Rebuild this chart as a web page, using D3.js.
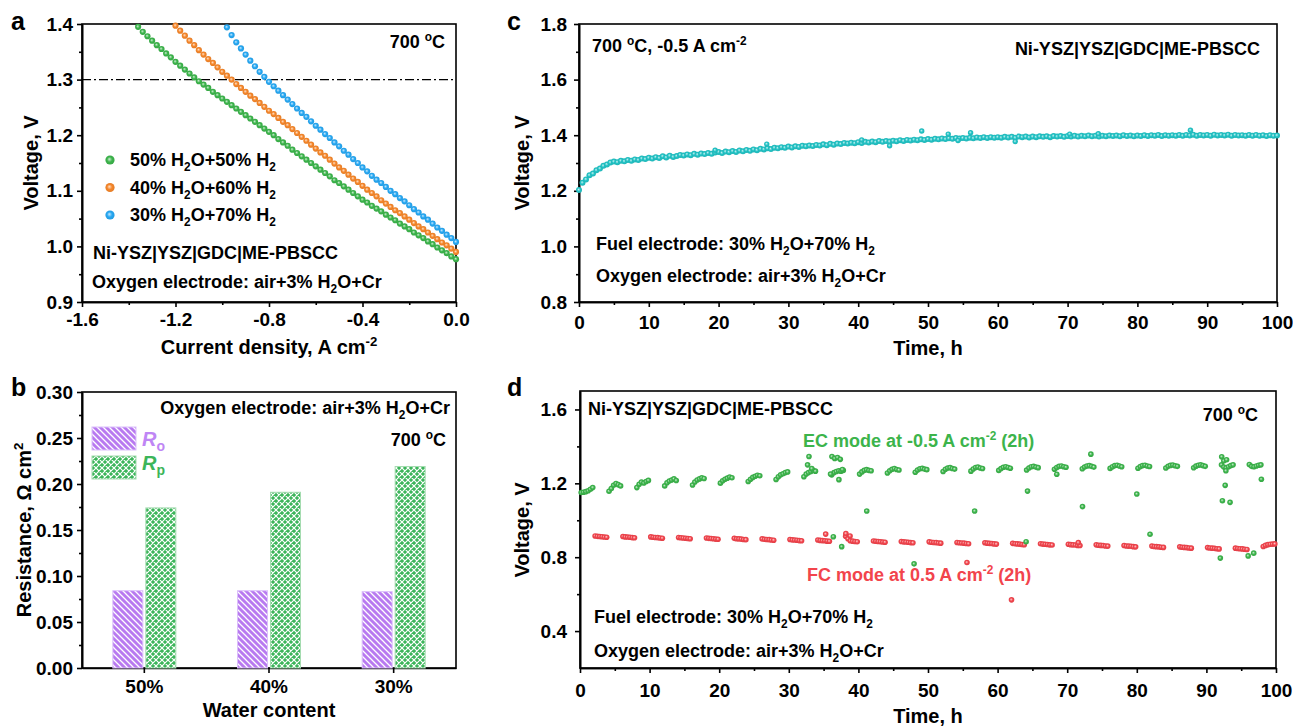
<!DOCTYPE html>
<html>
<head>
<meta charset="utf-8">
<script src="https://cdn.jsdelivr.net/npm/d3@7"></script>
<style>
  body { margin: 0; background: #fff; }
  text { font-family: "Liberation Sans", Arial, sans-serif; font-weight: bold; }
</style>
</head>
<body>
<script>
// ---------- data ----------
// (a) voltage vs current density, sampled every 0.02 A cm-2 starting at 0 and going negative
var iStep = 0.02;
var v50 = [0.977,0.982,0.988,0.993,0.998,1.004,1.009,1.015,1.020,1.025,
           1.031,1.036,1.041,1.047,1.052,1.057,1.063,1.068,1.073,1.079,
           1.084,1.090,1.096,1.102,1.108,1.114,1.119,1.126,1.132,1.138,
           1.144,1.150,1.156,1.162,1.168,1.174,1.181,1.187,1.193,1.200,
           1.206,1.212,1.218,1.224,1.230,1.236,1.242,1.248,1.254,1.260,
           1.266,1.272,1.278,1.285,1.291,1.297,1.304,1.311,1.318,1.325,
           1.332,1.340,1.347,1.355,1.362,1.370,1.378,1.386,1.395];
var v40 = [0.990,0.996,1.002,1.007,1.013,1.019,1.025,1.031,1.036,1.042,
           1.048,1.054,1.060,1.065,1.071,1.077,1.083,1.090,1.096,1.102,
           1.109,1.116,1.122,1.129,1.136,1.142,1.149,1.156,1.163,1.169,
           1.176,1.183,1.190,1.197,1.204,1.211,1.218,1.224,1.231,1.238,
           1.244,1.251,1.258,1.265,1.271,1.278,1.285,1.292,1.300,1.307,
           1.314,1.322,1.330,1.337,1.345,1.353,1.362,1.370,1.379,1.388,
           1.397];
var v30 = [1.008,1.015,1.021,1.028,1.034,1.041,1.048,1.054,1.061,1.067,
           1.074,1.081,1.087,1.094,1.100,1.107,1.114,1.120,1.127,1.135,
           1.142,1.150,1.157,1.165,1.172,1.180,1.187,1.195,1.202,1.210,
           1.217,1.225,1.233,1.240,1.248,1.256,1.264,1.272,1.280,1.288,
           1.296,1.305,1.314,1.324,1.334,1.345,1.356,1.367,1.380,1.394];
var seriesA = [
  {name: "50% H_{2}O+50% H_{2}", color: "#3cb44b", v: v50},
  {name: "40% H_{2}O+60% H_{2}", color: "#f5862a", v: v40},
  {name: "30% H_{2}O+70% H_{2}", color: "#26a7f2", v: v30}
];

// (b) resistances
var waterCats = ["50%", "40%", "30%"];
var rO = [0.084, 0.084, 0.083];
var rP = [0.174, 0.191, 0.219];

// (c) long-term electrolysis, one reading every 0.5 h
var cStep = 0.5;
var cV = [1.203,1.229,1.241,1.256,1.262,1.274,1.280,1.290,1.295,1.302,
          1.305,1.303,1.308,1.306,1.311,1.308,1.313,1.311,1.316,1.314,
          1.319,1.316,1.321,1.318,1.324,1.320,1.326,1.322,1.325,1.329,
          1.327,1.331,1.328,1.333,1.330,1.334,1.332,1.336,1.333,1.338,
          1.340,1.336,1.341,1.339,1.343,1.340,1.345,1.342,1.347,1.344,
          1.349,1.346,1.351,1.349,1.353,1.350,1.355,1.353,1.357,1.355,
          1.359,1.356,1.360,1.358,1.362,1.360,1.363,1.361,1.365,1.363,
          1.367,1.364,1.369,1.366,1.370,1.368,1.372,1.370,1.373,1.371,
          1.375,1.372,1.376,1.374,1.377,1.375,1.379,1.376,1.379,1.377,
          1.380,1.378,1.382,1.379,1.383,1.381,1.384,1.382,1.385,1.383,
          1.386,1.384,1.387,1.385,1.388,1.386,1.389,1.387,1.390,1.388,
          1.390,1.388,1.391,1.389,1.392,1.390,1.393,1.390,1.393,1.391,
          1.393,1.391,1.394,1.392,1.394,1.391,1.395,1.393,1.395,1.392,
          1.395,1.393,1.396,1.394,1.396,1.393,1.397,1.395,1.397,1.394,
          1.397,1.395,1.398,1.395,1.398,1.396,1.399,1.396,1.398,1.395,
          1.398,1.396,1.399,1.397,1.399,1.396,1.400,1.397,1.399,1.396,
          1.399,1.397,1.400,1.397,1.400,1.398,1.401,1.397,1.400,1.398,
          1.400,1.398,1.401,1.398,1.401,1.399,1.402,1.398,1.401,1.399,
          1.401,1.398,1.402,1.399,1.401,1.399,1.402,1.398,1.401,1.399,
          1.400,1.398,1.401,1.398,1.401,1.398,1.400,1.397,1.400,1.398,
          1.399];
var cOutT = [19.5, 26.9, 40.5, 44.5, 49.1, 52.9, 54.3, 56.1, 62.5, 70.3, 74.4, 87.6];
var cOutV = [1.346, 1.368, 1.383, 1.362, 1.415, 1.404, 1.381, 1.409, 1.377, 1.404, 1.405, 1.418];

// (d) cycling: 4 h cycles, EC for the first 2 h, FC for the next 2 h
var cycleLen = 4;
var readT = [0.17, 0.5, 0.83, 1.17, 1.5, 1.83];   // reading times inside each 2 h step
var ecV = [
  [1.150,1.152,1.155,1.160,1.168,1.177], [1.157,1.172,1.190,1.199,1.193,1.186],
  [1.177,1.195,1.207,1.202,1.210,1.216], [1.186,1.203,1.212,1.218,1.224,1.215],
  [1.191,1.207,1.218,1.224,1.230,1.226], [1.201,1.214,1.222,1.228,1.234,1.230],
  [1.210,1.222,1.232,1.238,1.244,1.241], [1.221,1.236,1.246,1.252,1.258,1.262],
  [1.236,1.250,1.258,1.264,1.270,1.266], [1.246,1.258,1.264,1.268,1.266,1.270],
  [1.250,1.262,1.270,1.274,1.270,1.268], [1.256,1.268,1.276,1.280,1.275,1.272],
  [1.260,1.272,1.279,1.281,1.277,1.274], [1.264,1.276,1.283,1.285,1.280,1.277],
  [1.266,1.278,1.286,1.288,1.283,1.280], [1.270,1.280,1.287,1.290,1.286,1.282],
  [1.272,1.283,1.290,1.292,1.288,1.285], [1.276,1.286,1.292,1.294,1.290,1.287],
  [1.279,1.288,1.294,1.296,1.292,1.288], [1.281,1.290,1.296,1.298,1.294,1.290],
  [1.282,1.291,1.296,1.298,1.294,1.291], [1.283,1.292,1.297,1.299,1.295,1.292],
  [1.284,1.293,1.298,1.300,1.296,1.292], [1.300,1.288,1.284,1.290,1.296,1.300],
  [1.302,1.292,1.290,1.294,1.298,1.300]
];
var fcV = [
  [0.915,0.913,0.912,0.911,0.909,0.908], [0.912,0.910,0.909,0.908,0.906,0.905],
  [0.910,0.908,0.907,0.906,0.904,0.903], [0.907,0.905,0.904,0.903,0.901,0.900],
  [0.904,0.902,0.901,0.900,0.898,0.897], [0.902,0.900,0.899,0.898,0.896,0.895],
  [0.899,0.897,0.896,0.895,0.893,0.892], [0.896,0.894,0.893,0.892,0.890,0.889],
  [0.893,0.891,0.890,0.889,0.887,0.886], [0.914,0.900,0.889,0.887,0.885,0.884],
  [0.888,0.886,0.885,0.884,0.882,0.881], [0.885,0.883,0.882,0.881,0.879,0.878],
  [0.883,0.881,0.880,0.879,0.877,0.876], [0.880,0.878,0.877,0.876,0.874,0.873],
  [0.878,0.876,0.875,0.874,0.872,0.871], [0.875,0.873,0.872,0.871,0.869,0.868],
  [0.873,0.871,0.870,0.869,0.867,0.866], [0.870,0.868,0.867,0.866,0.864,0.863],
  [0.867,0.865,0.864,0.863,0.861,0.860], [0.863,0.861,0.860,0.859,0.857,0.856],
  [0.860,0.858,0.857,0.856,0.854,0.853], [0.856,0.854,0.853,0.852,0.850,0.849],
  [0.852,0.850,0.849,0.848,0.846,0.845], [0.849,0.847,0.846,0.845,0.843,0.842],
  [0.858,0.864,0.868,0.870,0.871,0.872]
];
var ecOutT = [32.9, 32.7, 33.3, 36.2, 36.6, 37.0, 37.4, 36.0, 37.7, 37.2, 41.2, 36.4, 37.6, 48.0, 56.7,
              64.3, 64.1, 68.5, 72.2, 73.4, 80.0, 81.9, 92.2, 92.5, 92.9, 92.8, 92.7, 92.3, 93.4, 92.0,
              96.0, 96.8, 97.9];
var ecOutV = [1.345, 1.300, 1.280, 1.345, 1.335, 1.340, 1.330, 1.250, 1.275, 1.220, 1.050, 0.911, 0.857, 0.764, 1.050,
              1.158, 0.884, 1.249, 1.074, 1.358, 1.142, 0.924, 1.344, 1.322, 1.328, 1.268, 1.189, 1.106, 1.097, 0.795,
              0.807, 0.822, 1.222];
var fcOutT = [35.3, 38.2, 38.8, 55.6, 62.0, 71.6];
var fcOutV = [0.925, 0.928, 0.915, 0.771, 0.569, 0.879];

// ---------- set up ----------
var svg = d3.select("body").append("svg").attr("width", 1293).attr("height", 726);
var defs = svg.append("defs");
var FONT = "Liberation Sans, Arial, sans-serif";
var TICK = 19, TITLE = 20, NOTE = 18;

// ball-like marker fill
function sphere(id, base) {
  var g = defs.append("radialGradient").attr("id", id)
    .attr("cx", "50%").attr("cy", "50%").attr("r", "55%").attr("fx", "42%").attr("fy", "40%");
  g.append("stop").attr("offset", "0%").attr("stop-color", d3.interpolateRgb(base, "#fff")(0.75));
  g.append("stop").attr("offset", "50%").attr("stop-color", base);
  g.append("stop").attr("offset", "100%").attr("stop-color", d3.color(base).darker(0.25));
  return "url(#" + id + ")";
}

// text with _{sub} and ^{sup}
function rich(sel, str, fs) {
  var re = /([_^])\{([^}]*)\}/g, last = 0, m, shift = 0;
  function add(txt, kind) {
    if (!txt) return;
    var target = kind === "sub" ? 0.28 * fs : kind === "sup" ? -0.38 * fs : 0;
    var t = sel.append("tspan").text(txt).attr("dy", target - shift);
    shift = target;
    if (kind) t.style("font-size", (0.66 * fs) + "px");
  }
  while ((m = re.exec(str))) {
    add(str.slice(last, m.index), null);
    add(m[2], m[1] === "_" ? "sub" : "sup");
    last = re.lastIndex;
  }
  add(str.slice(last), null);
  return sel;
}
function label(x, y, str, opts) {
  opts = opts || {};
  var fs = opts.size || NOTE;
  var t = svg.append("text").attr("x", x).attr("y", y)
    .attr("font-size", fs).attr("fill", opts.color || "#000")
    .attr("text-anchor", opts.anchor || "start");
  if (opts.rotate) t.attr("transform", "rotate(-90," + x + "," + y + ")");
  return rich(t, str, fs);
}

function styleAxis(g) {
  g.attr("font-size", TICK).attr("font-family", FONT);
  g.selectAll("path, line").attr("stroke", "#000").attr("stroke-width", 1.6);
  g.selectAll("text").attr("fill", "#000");
}

function axes(p) {
  var yb = p.y.range()[0], yt = p.y.range()[1];
  var xl = p.x.range()[0], xr = p.x.range()[1];
  svg.append("rect").attr("x", xl).attr("y", yt).attr("width", xr - xl).attr("height", yb - yt)
    .attr("fill", "none").attr("stroke", "#000").attr("stroke-width", 1.6);
  var gx = svg.append("g").attr("transform", "translate(0," + yb + ")")
    .call(d3.axisBottom(p.x).tickValues(p.xMajor).tickFormat(p.xFmt)
      .tickSize(5).tickSizeOuter(0).tickPadding(p.xPad));
  styleAxis(gx);
  if (p.xMinor) {
    var gxm = svg.append("g").attr("transform", "translate(0," + yb + ")")
      .call(d3.axisBottom(p.x).tickValues(p.xMinor).tickFormat("").tickSize(3).tickSizeOuter(0));
    styleAxis(gxm);
  }
  var gy = svg.append("g").attr("transform", "translate(" + xl + ",0)")
    .call(d3.axisLeft(p.y).tickValues(p.yMajor).tickFormat(p.yFmt)
      .tickSize(5).tickSizeOuter(0).tickPadding(p.yPad));
  styleAxis(gy);
  var gym = svg.append("g").attr("transform", "translate(" + xl + ",0)")
    .call(d3.axisLeft(p.y).tickValues(p.yMinor).tickFormat("").tickSize(3).tickSizeOuter(0));
  styleAxis(gym);
}
function f1(d) { return d.toFixed(1); }
function f2(d) { return d.toFixed(2); }

// ---------- (a) ----------
var xA = d3.scaleLinear().domain([-1.6, 0]).range([82, 456]);
var yA = d3.scaleLinear().domain([0.9, 1.4]).range([302, 24]);
axes({x: xA, y: yA, xMajor: [-1.6, -1.2, -0.8, -0.4, 0], xMinor: [-1.4, -1.0, -0.6, -0.2], xFmt: f1, xPad: 6,
      yMajor: [0.9, 1.0, 1.1, 1.2, 1.3, 1.4], yMinor: [0.95, 1.05, 1.15, 1.25, 1.35], yFmt: f1, yPad: 4});

svg.append("line").attr("x1", xA(-1.6)).attr("x2", xA(0)).attr("y1", yA(1.3)).attr("y2", yA(1.3))
  .attr("stroke", "#000").attr("stroke-width", 1.3).attr("stroke-dasharray", "9,3,2,3");

seriesA.forEach(function (s, k) {
  var fill = sphere("ga" + k, s.color);
  svg.append("g").selectAll("circle").data(s.v).join("circle")
    .attr("cx", function (d, i) { return xA(-i * iStep); })
    .attr("cy", function (d) { return yA(d); })
    .attr("r", 3.1).attr("fill", fill);
  var ly = 160 + k * 27.5;
  svg.append("circle").attr("cx", 110).attr("cy", ly).attr("r", 4.6).attr("fill", fill);
  label(130, ly + 6, s.name);
});
label(445, 48, "700 ^{o}C", {anchor: "end"});
label(93, 259, "Ni-YSZ|YSZ|GDC|ME-PBSCC");
label(92, 288, "Oxygen electrode: air+3% H_{2}O+Cr");
label(269, 354, "Current density, A cm^{-2}", {anchor: "middle", size: TITLE});
label(38, 163, "Voltage, V", {anchor: "middle", size: TITLE, rotate: true});
label(11, 30, "a", {size: 25});

// ---------- (b) ----------
var xB = d3.scaleBand().domain(waterCats).range([82, 456]).padding(0);
var yB = d3.scaleLinear().domain([0, 0.30]).range([668, 392]);
axes({x: xB, y: yB, xMajor: waterCats, xFmt: function (d) { return d; }, xPad: 7,
      yMajor: [0, 0.05, 0.10, 0.15, 0.20, 0.25, 0.30],
      yMinor: [0.025, 0.075, 0.125, 0.175, 0.225, 0.275], yFmt: f2, yPad: 4});

var pO = defs.append("pattern").attr("id", "hatchO").attr("patternUnits", "userSpaceOnUse")
  .attr("width", 6).attr("height", 6);
pO.append("rect").attr("width", 6).attr("height", 6).attr("fill", "#b87af0");
pO.append("path").attr("d", "M0,0L6,6M-1,5L1,7M5,-1L7,1").attr("stroke", "#fff").attr("stroke-width", 1.3);
var pP = defs.append("pattern").attr("id", "hatchP").attr("patternUnits", "userSpaceOnUse")
  .attr("width", 6).attr("height", 6);
pP.append("rect").attr("width", 6).attr("height", 6).attr("fill", "#3cb55a");
pP.append("path").attr("d", "M0,0L6,6M-1,5L1,7M5,-1L7,1M0,6L6,0M-1,1L1,-1M5,7L7,5")
  .attr("stroke", "#fff").attr("stroke-width", 1.2);

var barW = 30, barGap = 3;
svg.append("g").selectAll("rect").data(rO).join("rect")
  .attr("x", function (d, i) { return xB(waterCats[i]) + xB.bandwidth() / 2 - barW - barGap / 2; })
  .attr("y", function (d) { return yB(d); })
  .attr("width", barW).attr("height", function (d) { return yB(0) - yB(d); })
  .attr("fill", "url(#hatchO)").attr("stroke", "#dcc0fb").attr("stroke-width", 1);
svg.append("g").selectAll("rect").data(rP).join("rect")
  .attr("x", function (d, i) { return xB(waterCats[i]) + xB.bandwidth() / 2 + barGap / 2; })
  .attr("y", function (d) { return yB(d); })
  .attr("width", barW).attr("height", function (d) { return yB(0) - yB(d); })
  .attr("fill", "url(#hatchP)").attr("stroke", "#a5dcb0").attr("stroke-width", 1);

svg.append("rect").attr("x", 92).attr("y", 427).attr("width", 44).attr("height", 23)
  .attr("fill", "url(#hatchO)").attr("stroke", "#dcc0fb");
svg.append("rect").attr("x", 92).attr("y", 456).attr("width", 44).attr("height", 23)
  .attr("fill", "url(#hatchP)").attr("stroke", "#a5dcb0");
[["o", "#bf86f5", 446], ["p", "#3cb55a", 470]].forEach(function (l) {
  var t = svg.append("text").attr("x", 142).attr("y", l[2]).attr("font-size", 20).attr("fill", l[1]);
  t.append("tspan").attr("font-style", "italic").text("R");
  t.append("tspan").attr("dy", 5).attr("font-size", 14).text(l[0]);
});
label(450, 414, "Oxygen electrode: air+3% H_{2}O+Cr", {anchor: "end"});
label(446, 446, "700 ^{o}C", {anchor: "end"});
label(269, 717, "Water content", {anchor: "middle", size: TITLE});
label(31, 530, "Resistance, \u03a9 cm^{2}", {anchor: "middle", size: TITLE, rotate: true});
label(11, 396, "b", {size: 25});

// ---------- (c) ----------
var tTicks = [0, 10, 20, 30, 40, 50, 60, 70, 80, 90, 100];
var tMinor = [5, 15, 25, 35, 45, 55, 65, 75, 85, 95];
var xC = d3.scaleLinear().domain([0, 100]).range([579, 1277]);
var yC = d3.scaleLinear().domain([0.8, 1.8]).range([302, 24]);
axes({x: xC, y: yC, xMajor: tTicks, xMinor: tMinor, xFmt: function (d) { return d; }, xPad: 9,
      yMajor: [0.8, 1.0, 1.2, 1.4, 1.6, 1.8], yMinor: [0.9, 1.1, 1.3, 1.5, 1.7], yFmt: f1, yPad: 7});
var cyan = sphere("gc", "#22c3c5");
svg.append("g").selectAll("circle").data(cV).join("circle")
  .attr("cx", function (d, i) { return xC(i * cStep); })
  .attr("cy", function (d) { return yC(d); })
  .attr("r", 3).attr("fill", cyan);
svg.append("g").selectAll("circle").data(cOutV).join("circle")
  .attr("cx", function (d, i) { return xC(cOutT[i]); })
  .attr("cy", function (d) { return yC(d); })
  .attr("r", 2.7).attr("fill", cyan);
label(592, 52, "700 ^{o}C, -0.5 A cm^{-2}");
label(1260, 55, "Ni-YSZ|YSZ|GDC|ME-PBSCC", {anchor: "end"});
label(596, 250, "Fuel electrode: 30% H_{2}O+70% H_{2}");
label(596, 282, "Oxygen electrode: air+3% H_{2}O+Cr");
label(928, 355, "Time, h", {anchor: "middle", size: TITLE});
label(529, 163, "Voltage, V", {anchor: "middle", size: TITLE, rotate: true});
label(507, 30, "c", {size: 25});

// ---------- (d) ----------
var xD = d3.scaleLinear().domain([0, 100]).range([580, 1276]);
var yD = d3.scaleLinear().domain([0.2, 1.7]).range([668, 391]);
axes({x: xD, y: yD, xMajor: tTicks, xMinor: tMinor, xFmt: function (d) { return d; }, xPad: 11,
      yMajor: [0.4, 0.8, 1.2, 1.6], yMinor: [0.6, 1.0, 1.4], yFmt: f1, yPad: 8});
var gEC = sphere("gec", "#3cb44b"), gFC = sphere("gfc", "#f2444c");
var fcPts = [], ecPts = [];
fcV.forEach(function (row, k) {
  row.forEach(function (v, j) { fcPts.push([k * cycleLen + 2 + readT[j], v]); });
});
ecV.forEach(function (row, k) {
  row.forEach(function (v, j) { ecPts.push([k * cycleLen + readT[j], v]); });
});
fcOutT.forEach(function (t, i) { fcPts.push([t, fcOutV[i]]); });
ecOutT.forEach(function (t, i) { ecPts.push([t, ecOutV[i]]); });
svg.append("g").selectAll("circle").data(fcPts).join("circle")
  .attr("cx", function (d) { return xD(d[0]); }).attr("cy", function (d) { return yD(d[1]); })
  .attr("r", 2.8).attr("fill", gFC);
svg.append("g").selectAll("circle").data(ecPts).join("circle")
  .attr("cx", function (d) { return xD(d[0]); }).attr("cy", function (d) { return yD(d[1]); })
  .attr("r", 2.8).attr("fill", gEC);
label(588, 415, "Ni-YSZ|YSZ|GDC|ME-PBSCC");
label(1258, 421, "700 ^{o}C", {anchor: "end"});
label(803, 447, "EC mode at -0.5 A cm^{-2} (2h)", {color: "#3cb44b"});
label(807, 581, "FC mode at 0.5 A cm^{-2} (2h)", {color: "#f2444c"});
label(594, 623, "Fuel electrode: 30% H_{2}O+70% H_{2}");
label(594, 657, "Oxygen electrode: air+3% H_{2}O+Cr");
label(928, 723, "Time, h", {anchor: "middle", size: TITLE});
label(529, 530, "Voltage, V", {anchor: "middle", size: TITLE, rotate: true});
label(507, 396, "d", {size: 25});
</script>
</body>
</html>
